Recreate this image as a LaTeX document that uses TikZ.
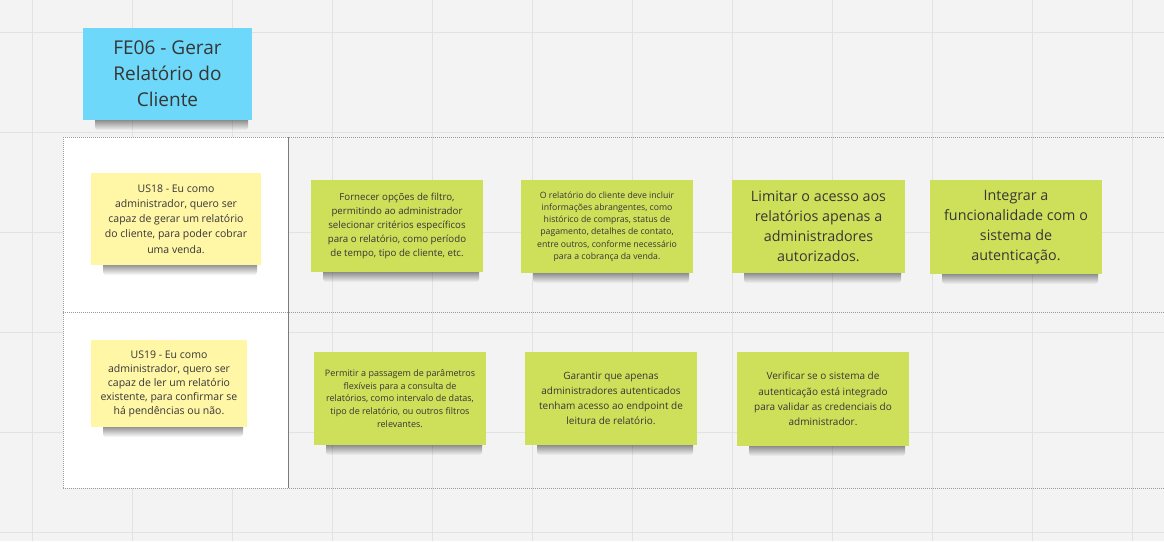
\documentclass[tikz,border=0pt]{standalone}
\usepackage{fontspec}
\setmainfont{Open Sans}
\usetikzlibrary{fadings}
\definecolor{bgc}{HTML}{F3F3F3}
\definecolor{gridc}{HTML}{E2E2E2}
\definecolor{lanec}{HTML}{9A9A9A}
\definecolor{bluen}{HTML}{6DD8F9}
\definecolor{yellown}{HTML}{FFF6A6}
\definecolor{greenn}{HTML}{CEE05A}
\definecolor{txt}{HTML}{363636}
\tikzfading[name=shadowfade, top color=transparent!10, bottom color=transparent!100]
\tikzset{
  note/.style={inner sep=0pt, align=center, text=txt},
  lane/.style={lanec, line width=0.8pt, dash pattern=on 1pt off 1pt},
}
\newcommand{\notebox}[8]{% name, x1, y1, x2, y2, color, size/leading, text
  \fill[black, opacity=0.6, path fading=shadowfade, rounded corners=3pt]
    ({#2+12},{#5-3}) rectangle ({#4-4},{#5+10});
  \fill[#6] (#2,#3) rectangle (#4,#5);
  \node[note, font=\fontsize#7\selectfont] (#1) at ({(#2+#4)/2},{(#3+#5)/2}) {#8};
}
\begin{document}
\begin{tikzpicture}[x=1pt,y=-1pt]
\useasboundingbox (0,0) rectangle (1164,541);
\fill[bgc] (0,0) rectangle (1164,541);
\foreach \v in {32,132,...,1132} \draw[gridc, line width=1pt] (\v,0) -- (\v,541);
\foreach \h in {32,132,...,532} \draw[gridc, line width=1pt] (0,\h) -- (1164,\h);
% lanes
\fill[white] (63,137) rectangle (288,488);
\draw[lane] (63,137) -- (1164,137);
\draw[lane] (63,312) -- (1164,312);
\draw[lane] (63,488) -- (1164,488);
\draw[lane] (63,137) -- (63,488);
\draw[lanec!80!black, line width=0.8pt] (288,137) -- (288,488);
% notes
\notebox{fe06}{83}{28}{252}{120}{bluen}{{19}{26}}{FE06 - Gerar\\Relatório do\\Cliente}
\notebox{us18}{91}{173}{261}{265}{yellown}{{10.5}{15.2}}{US18 - Eu como\\administrador, quero ser\\capaz de gerar um relatório\\do cliente, para poder cobrar\\uma venda.}
\notebox{us19}{91}{340}{247}{427}{yellown}{{10.5}{14}}{US19 - Eu como\\administrador, quero ser\\capaz de ler um relatório\\existente, para confirmar se\\há pendências ou não.}
\notebox{t1}{311}{180}{483}{272}{greenn}{{9.7}{14.2}}{Fornecer opções de filtro,\\permitindo ao administrador\\selecionar critérios específicos\\para o relatório, como período\\de tempo, tipo de cliente, etc.}
\notebox{t2}{521}{180}{693}{273}{greenn}{{8.7}{12.3}}{O relatório do cliente deve incluir\\informações abrangentes, como\\histórico de compras, status de\\pagamento, detalhes de contato,\\entre outros, conforme necessário\\para a cobrança da venda.}
\notebox{t3}{732}{180}{905}{273}{greenn}{{14.3}{20}}{Limitar o acesso aos\\relatórios apenas a\\administradores\\autorizados.}
\notebox{t4}{930}{180}{1102}{274}{greenn}{{14.3}{20}}{Integrar a\\funcionalidade com o\\sistema de\\autenticação.}
\notebox{t5}{314}{352}{486}{445}{greenn}{{9}{12.8}}{Permitir a passagem de parâmetros\\flexíveis para a consulta de\\relatórios, como intervalo de datas,\\tipo de relatório, ou outros filtros\\relevantes.}
\notebox{t6}{525}{352}{697}{445}{greenn}{{10}{14.8}}{Garantir que apenas\\administradores autenticados\\tenham acesso ao endpoint de\\leitura de relatório.}
\notebox{t7}{737}{352}{909}{446}{greenn}{{10}{15.2}}{Verificar se o sistema de\\autenticação está integrado\\para validar as credenciais do\\administrador.}
\end{tikzpicture}
\end{document}
